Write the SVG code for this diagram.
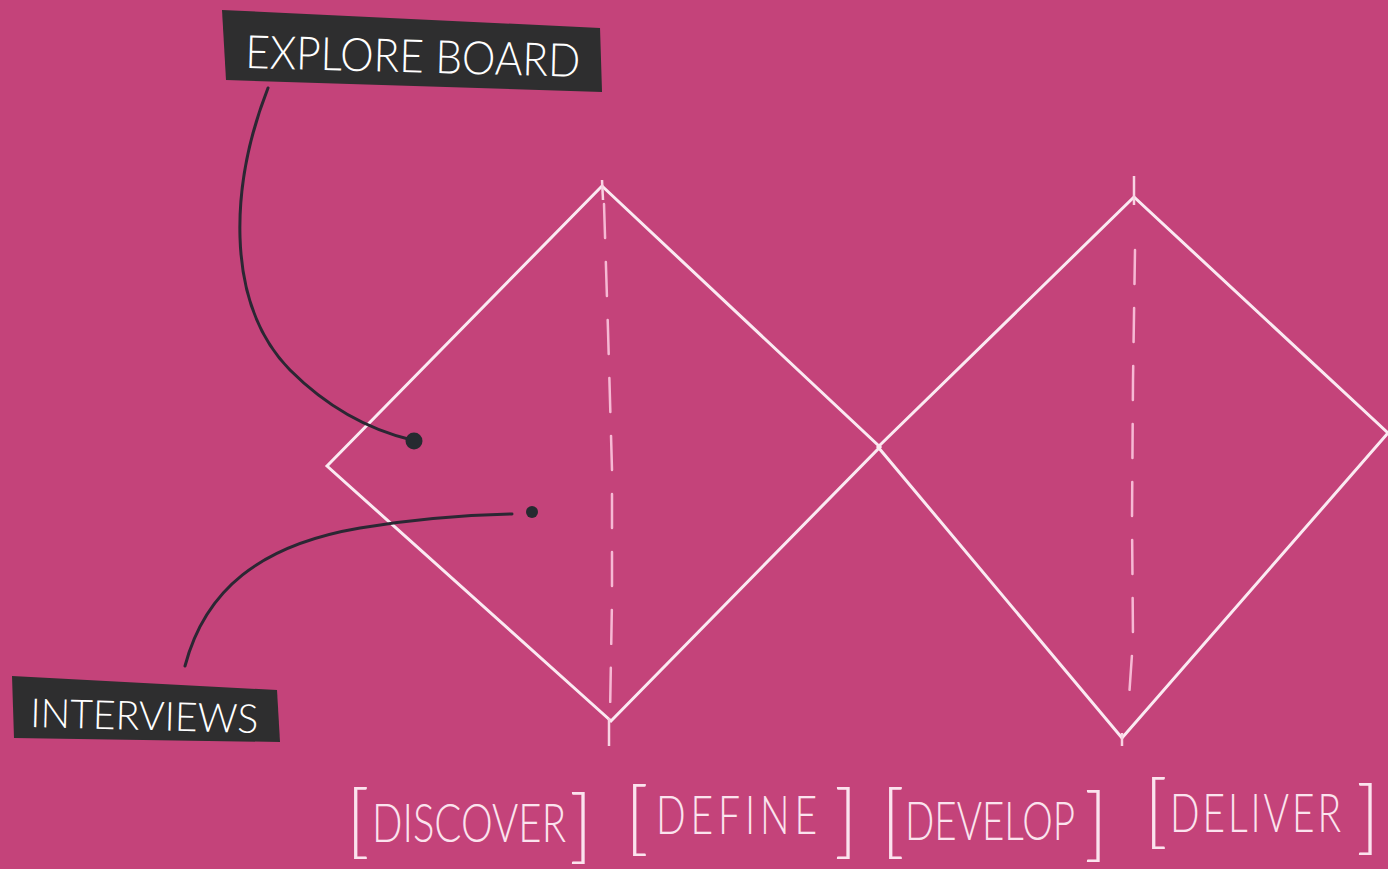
<svg xmlns="http://www.w3.org/2000/svg" width="1388" height="869" viewBox="0 0 1388 869">
  <style>
    .diam { fill: none; stroke: #fbeaf2; stroke-width: 3; stroke-linejoin: miter; }
    .axis { fill: none; stroke: #f6b9d4; stroke-width: 2.5; stroke-dasharray: 34 24; stroke-linecap: round; }
    .tick { fill: none; stroke: #f8d3e3; stroke-width: 2.5; }
    .box { fill: #2e2e2f; }
    .lbl { fill: #ffffff; font-family: "Lato", "Liberation Sans", sans-serif; font-weight: 300; }
    .phase { fill: #fbe3ee; font-family: "Lato", "Liberation Sans", sans-serif; font-weight: 300; font-size: 40px; }
    .brk { fill: #fbe3ee; font-family: "Lato", "Liberation Sans", sans-serif; font-weight: 300; font-size: 80px; }
    .conn { fill: none; stroke: #2b2733; stroke-width: 3; stroke-linecap: round; }
    .dot { fill: #262a30; }
  </style>
  <rect width="1388" height="869" fill="#c4437a"/>

  <g id="diamond-1">
    <polygon class="diam" points="327,466 602,186 880,447 611,721"/>
    <line class="tick" x1="602" y1="180" x2="603" y2="200"/>
    <line class="tick" x1="609" y1="718" x2="609" y2="746"/>
    <path class="axis" d="M604,204 L608,330 L612,470 L612,600 L610,715"/>
  </g>
  <g id="diamond-2">
    <polygon class="diam" points="878,447 1134,197 1388,433 1122,738"/>
    <line class="tick" x1="1134" y1="176" x2="1134" y2="205"/>
    <line class="tick" x1="1122" y1="733" x2="1122" y2="746"/>
    <path class="axis" d="M1135,250 L1133,380 L1132,520 L1133,640 L1128,712"/>
  </g>

  <g id="connectors">
    <path class="conn" d="M268,88 C232,180 222,300 290,370 C330,410 370,430 412,440"/>
    <path class="conn" d="M185,666 C205,590 260,545 360,528 C420,518 470,515 512,514"/>
    <circle class="dot" cx="414" cy="441" r="8.5"/>
    <circle class="dot" cx="532" cy="512" r="6"/>
  </g>

  <g id="explore-board">
    <polygon class="box" points="222,10 600,28 602,92 226,80"/>
    <text class="lbl" x="245" y="68" font-size="46" textLength="335" lengthAdjust="spacingAndGlyphs" transform="rotate(1.5 245 68)">EXPLORE BOARD</text>
  </g>

  <g id="interviews">
    <polygon class="box" points="12,676 277,690 280,742 14,738"/>
    <text class="lbl" x="30" y="727" font-size="40" textLength="228" lengthAdjust="spacingAndGlyphs" transform="rotate(1.5 30 727)">INTERVIEWS</text>
  </g>

  <g id="discover">
    <text class="brk" x="346" y="848">[</text>
    <text class="phase" x="372" y="623.7" transform="scale(1 1.35)" textLength="194" lengthAdjust="spacingAndGlyphs">DISCOVER</text>
    <text class="brk" x="569" y="853">]</text>
  </g>
  <g id="define">
    <text class="brk" x="625" y="845">[</text>
    <text class="phase" x="656" y="617.8" transform="scale(1 1.35)" letter-spacing="5" textLength="166" lengthAdjust="spacingAndGlyphs">DEFINE</text>
    <text class="brk" x="834" y="848">]</text>
  </g>
  <g id="develop">
    <text class="brk" x="881" y="848">[</text>
    <text class="phase" x="905" y="622.2" transform="scale(1 1.35)" textLength="170" lengthAdjust="spacingAndGlyphs">DEVELOP</text>
    <text class="brk" x="1084" y="851">]</text>
  </g>
  <g id="deliver">
    <text class="brk" x="1144" y="838">[</text>
    <text class="phase" x="1170" y="616.3" transform="scale(1 1.35)" letter-spacing="3" textLength="174" lengthAdjust="spacingAndGlyphs">DELIVER</text>
    <text class="brk" x="1356" y="844">]</text>
  </g>
</svg>
